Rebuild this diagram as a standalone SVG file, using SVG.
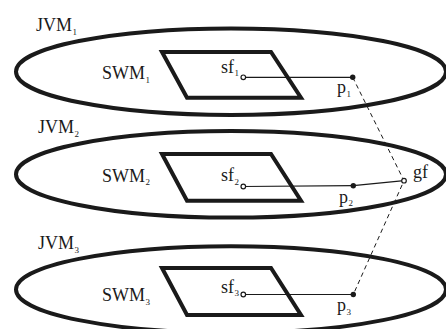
<svg xmlns="http://www.w3.org/2000/svg" width="446" height="329" viewBox="0 0 446 329">
<style>
.jvm{fill:none;stroke:#1a1a1a;stroke-width:4}
.swm{fill:none;stroke:#1a1a1a;stroke-width:4;stroke-linejoin:miter}
.t{font-family:"Liberation Serif","DejaVu Serif",serif;font-size:18px;fill:#1a1a1a}
.s{font-size:9px}
.open{fill:#fff;stroke:#1a1a1a;stroke-width:1.2}
.dot{fill:#1a1a1a}
.ln{stroke:#1a1a1a;stroke-width:1.2;fill:none}
.dash{stroke:#1a1a1a;stroke-width:1;fill:none;stroke-dasharray:4.5 3.5}
</style>
<rect width="446" height="329" fill="#fff"/>
<g id="jvm1">
<ellipse class="jvm" cx="231" cy="71.7" rx="215" ry="43.3"/>
<text class="t" x="36" y="31">JVM<tspan class="s" dx="0.5" dy="3.5">1</tspan></text>
</g>
<g id="jvm2">
<ellipse class="jvm" cx="231" cy="174.3" rx="215" ry="43.3"/>
<text class="t" x="38" y="133">JVM<tspan class="s" dx="0.5" dy="3.5">2</tspan></text>
</g>
<g id="jvm3">
<ellipse class="jvm" cx="231" cy="289.5" rx="215" ry="43.3"/>
<text class="t" x="38" y="249">JVM<tspan class="s" dx="0.5" dy="3.5">3</tspan></text>
</g>
<g id="swm1">
<polygon class="swm" points="162,52 271,52 301,97.7 187,97.7"/>
<text class="t" x="102" y="79">SWM<tspan class="s" dx="0.5" dy="3.5">1</tspan></text>
</g>
<g id="swm2">
<polygon class="swm" points="162,154 271,154 301,200.7 187,200.7"/>
<text class="t" x="102" y="181.5">SWM<tspan class="s" dx="0.5" dy="3.5">2</tspan></text>
</g>
<g id="swm3">
<polygon class="swm" points="162,268 271,268 301,315 187,315"/>
<text class="t" x="102" y="301">SWM<tspan class="s" dx="0.5" dy="3.5">3</tspan></text>
</g>
<g id="connectors">
<line class="ln" x1="243.3" y1="77.3" x2="352.7" y2="77.3"/>
<line class="ln" x1="243.3" y1="186.5" x2="353.3" y2="185.7"/>
<line class="ln" x1="243.3" y1="294.5" x2="353.3" y2="294.5"/>
<line class="ln" x1="353.3" y1="185.7" x2="404" y2="180.7"/>
<polyline class="dash" points="352.7,77.3 404,180.7 353.3,294.5"/>
</g>
<g id="sf1">
<circle class="open" cx="243.3" cy="77.3" r="2.3"/>
<text class="t" x="221" y="72.5">sf<tspan class="s" dx="0.5" dy="3.5">1</tspan></text>
</g>
<g id="sf2">
<circle class="open" cx="243.3" cy="186.5" r="2.3"/>
<text class="t" x="221" y="181">sf<tspan class="s" dx="0.5" dy="3.5">2</tspan></text>
</g>
<g id="sf3">
<circle class="open" cx="243.3" cy="294.5" r="2.3"/>
<text class="t" x="221" y="292.5">sf<tspan class="s" dx="0.5" dy="3.5">3</tspan></text>
</g>
<g id="p1">
<circle class="dot" cx="352.7" cy="77.3" r="2.7"/>
<text class="t" x="337" y="93">p<tspan class="s" dx="0.5" dy="3.5">1</tspan></text>
</g>
<g id="p2">
<circle class="dot" cx="353.3" cy="185.7" r="2.7"/>
<text class="t" x="339" y="202.5">p<tspan class="s" dx="0.5" dy="3.5">2</tspan></text>
</g>
<g id="p3">
<circle class="dot" cx="353.3" cy="294.5" r="2.7"/>
<text class="t" x="337" y="311">p<tspan class="s" dx="0.5" dy="3.5">3</tspan></text>
</g>
<g id="gf">
<circle class="open" cx="404" cy="180.7" r="2.3"/>
<text class="t" x="413" y="178">gf</text>
</g>
</svg>
